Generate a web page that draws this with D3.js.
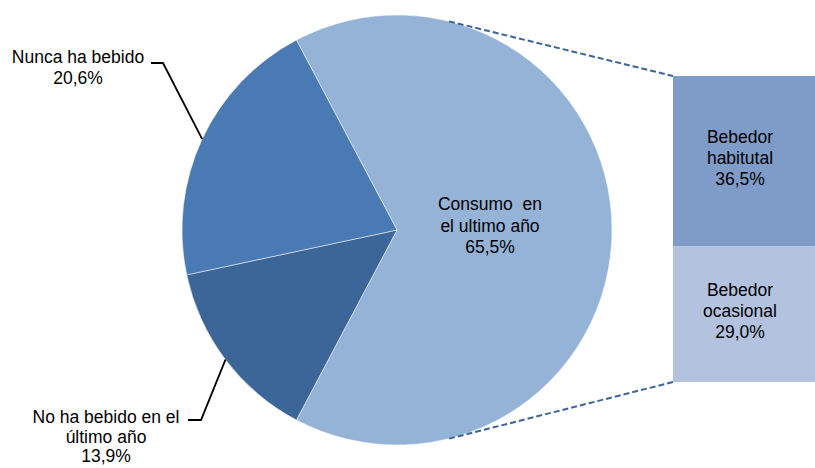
<!DOCTYPE html>
<html>
<head>
<meta charset="utf-8">
<script src="https://cdn.jsdelivr.net/npm/d3@7"></script>
<style>
  html, body { margin: 0; padding: 0; background: #fff; }
  svg { display: block; font-family: "Liberation Sans", Arial, sans-serif; }
  text { white-space: pre; }
</style>
</head>
<body>
<svg id="chart" width="815" height="468"></svg>
<script>
// Pie slices, clockwise from the split-out slice
const pieLabels = [["Consumo  en", "el ultimo año"], ["No ha bebido en el", "último año"], ["Nunca ha bebido"]];
const pieValues = [65.5, 13.9, 20.6];
const pieColors = ["#95B3D7", "#3C6598", "#4A7AB3"];

// Breakdown of the first slice
const barLabels = [["Bebedor", "habitutal"], ["Bebedor", "ocasional"]];
const barValues = [36.5, 29.0];
const barColors = ["#7F9CC8", "#B3C3DF"];

const fmt = v => d3.format(".1f")(v).replace(".", ",") + "%";

const svg = d3.select("#chart");
const cx = 397, cy = 230, r = 215;

const total = d3.sum(pieValues);
const split = pieValues[0] / total * 2 * Math.PI;
const pie = d3.pie().sort(null).value(d => d)
  .startAngle(Math.PI / 2 - split / 2)
  .endAngle(Math.PI / 2 - split / 2 + 2 * Math.PI);
const arcs = pie(pieValues);
const arc = d3.arc().innerRadius(0).outerRadius(r);

const g = svg.append("g").attr("transform", `translate(${cx},${cy})`);
g.selectAll("path").data(arcs).join("path")
  .attr("d", arc)
  .attr("fill", (d, i) => pieColors[i])
  .attr("stroke", "#fff").attr("stroke-width", 0.5);

// Stacked bar for the breakdown
const barX = 673, barW = 142;
const y = d3.scaleLinear().domain([0, d3.sum(barValues)]).range([76, 382]);
let acc = 0;
const stack = barValues.map(v => { const s = { y0: acc, y1: acc + v, v }; acc += v; return s; });
svg.selectAll("rect.bar").data(stack).join("rect")
  .attr("class", "bar")
  .attr("x", barX).attr("width", barW)
  .attr("y", d => y(d.y0)).attr("height", d => y(d.y1) - y(d.y0))
  .attr("fill", (d, i) => barColors[i]);

// Dashed connectors from the arc to the bar corners
const connAngle = 14 * Math.PI / 180;
const px = cx + r * Math.sin(connAngle);
const pyTop = cy - r * Math.cos(connAngle);
const pyBot = cy + r * Math.cos(connAngle);
const conn = svg.append("g").attr("stroke", "#3C6598").attr("stroke-width", 2).attr("stroke-dasharray", "6,3");
conn.append("line").attr("x1", px).attr("y1", pyTop).attr("x2", barX).attr("y2", y(0));
conn.append("line").attr("x1", px).attr("y1", pyBot).attr("x2", barX).attr("y2", y(d3.sum(barValues)));

// Text helper
function block(x, yBase, lines, lh) {
  const t = svg.append("text").attr("text-anchor", "middle").attr("font-size", 17.5).attr("fill", "#000");
  lines.forEach((s, i) => t.append("tspan").attr("x", x).attr("y", yBase + i * lh).text(s));
}

// Slice label inside the big slice
block(490, 210, [...pieLabels[0], fmt(pieValues[0])], 21.5);

// Outer slice labels with leader lines
const leader = (pts) => svg.append("path").attr("d", d3.line()(pts))
  .attr("fill", "none").attr("stroke", "#000").attr("stroke-width", 1.8);
const edge = d => { const a = (d.startAngle + d.endAngle) / 2; return [cx + r * Math.sin(a), cy - r * Math.cos(a)]; };

leader([[151, 63], [163, 63], edge(arcs[2])]);
block(78, 63, [...pieLabels[2], fmt(pieValues[2])], 21);

leader([[188, 420], [201, 420], edge(arcs[1])]);
block(106, 423, [...pieLabels[1], fmt(pieValues[1])], 19.5);

// Bar labels
stack.forEach((d, i) => {
  const mid = (y(d.y0) + y(d.y1)) / 2;
  block(740, mid - 18, [...barLabels[i], fmt(d.v)], 21);
});
</script>
</body>
</html>
